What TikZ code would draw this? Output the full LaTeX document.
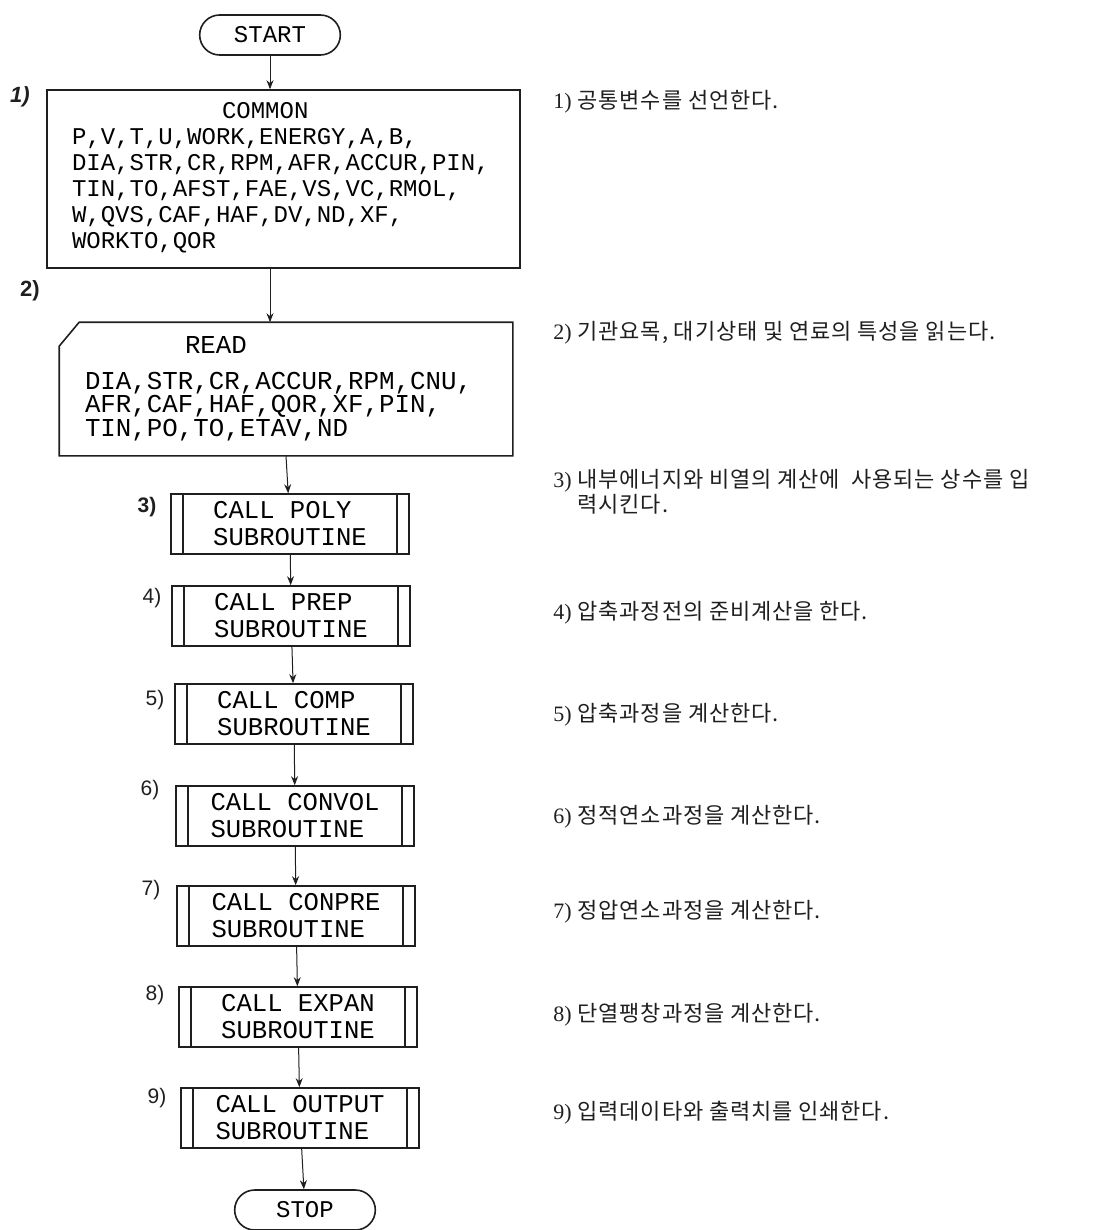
\documentclass[tikz,border=0pt]{standalone}
\usepackage{fontspec}
\setmainfont{Liberation Serif}
\setsansfont{Liberation Sans}
\setmonofont{Liberation Mono}
\newfontfamily\cjk[LetterSpace=4]{Noto Sans CJK KR}
\usepackage{tikz}
\usetikzlibrary{arrows.meta,shapes.misc}
\usepackage{xcolor}
\definecolor{ink}{HTML}{1F1F1F}
\newcommand{\notenum}[1]{{\rmfamily #1)}\ }
\tikzset{
  >={Stealth[length=4.5pt,width=3.5pt]},
  boxline/.style={draw=ink,line width=0.8pt},
  termbox/.style={rounded rectangle,boxline,minimum width=77pt,minimum height=20pt,
                  font=\ttfamily\fontsize{12}{13}\selectfont},
  listbox/.style={boxline,align=left,inner xsep=12.5pt,
                  font=\ttfamily\fontsize{12}{13}\selectfont},
  subbox/.style={boxline,align=left,minimum width=119pt,minimum height=30pt,
                 font=\ttfamily\fontsize{12.8}{13.5}\selectfont,
                 path picture={\draw[ink,line width=0.8pt]
                   ([xshift=6pt]path picture bounding box.north west) --
                   ([xshift=6pt]path picture bounding box.south west)
                   ([xshift=-6pt]path picture bounding box.north east) --
                   ([xshift=-6pt]path picture bounding box.south east);}},
  steplabel/.style={inner sep=0pt,text=ink,font=\sffamily\fontsize{10.5}{12}\selectfont},
  note/.style={anchor=west,inner sep=0pt,align=left,text=ink,
               font=\cjk\fontsize{11}{11}\selectfont},
  flow/.style={->,draw=ink,line width=0.5pt}
}

\begin{document}
\begin{tikzpicture}[x=0.5pt,y=-0.5pt]
  \useasboundingbox (0,0) rectangle (1097,1230);

  % main column
  \node[termbox] (start) at (270,35) {START};
  \node[listbox,text width=211.5pt,minimum height=89pt] (common) at (283.5,179)
    {\hspace*{75pt}COMMON\\
     P,V,T,U,WORK,ENERGY,A,B,\\
     DIA,STR,CR,RPM,AFR,ACCUR,PIN,\\
     TIN,TO,AFST,FAE,VS,VC,RMOL,\\
     W,QVS,CAF,HAF,DV,ND,XF,\\
     WORKTO,QOR\rule[-4pt]{0pt}{4pt}};
  \node[listbox,draw=none,font=\ttfamily\fontsize{12.9}{11.75}\selectfont,
        text width=201pt,minimum height=66pt] (read) at (286,389)
    {\hspace*{50pt}READ\\[6pt]
     DIA,STR,CR,ACCUR,RPM,CNU,\\
     AFR,CAF,HAF,QOR,XF,PIN,\\
     TIN,PO,TO,ETAV,ND};
  \draw[boxline] ([xshift=10pt]read.north west) -- (read.north east)
    -- (read.south east) -- (read.south west) -- ([yshift=-12pt]read.north west) -- cycle;

  \node[subbox] (poly)   at (290,524)  {CALL POLY\\SUBROUTINE};
  \node[subbox] (prep)   at (291,616)  {CALL PREP\\SUBROUTINE};
  \node[subbox] (comp)   at (294,714)  {CALL COMP\\SUBROUTINE};
  \node[subbox] (convol) at (295,816)  {CALL CONVOL\\SUBROUTINE};
  \node[subbox] (conpre) at (296,916)  {CALL CONPRE\\SUBROUTINE};
  \node[subbox] (expan)  at (298,1017) {CALL EXPAN\\SUBROUTINE};
  \node[subbox] (output) at (300,1118) {CALL OUTPUT\\SUBROUTINE};
  \node[termbox] (stop) at (305,1210) {STOP};

  % step numbers
  \node[steplabel,font=\sffamily\bfseries\itshape\fontsize{11}{12}\selectfont] (l1) at (20,97) {1)};
  \node[steplabel,font=\sffamily\bfseries\fontsize{11}{12}\selectfont] (l2) at (30,291) {2)};
  \node[steplabel,font=\sffamily\bfseries\fontsize{10.5}{12}\selectfont] (l3) at (147,507) {3)};
  \node[steplabel] (l4) at (152,598) {4)};
  \node[steplabel] (l5) at (155,700) {5)};
  \node[steplabel] (l6) at (150,790) {6)};
  \node[steplabel] (l7) at (151,890) {7)};
  \node[steplabel] (l8) at (155,995) {8)};
  \node[steplabel] (l9) at (157,1098) {9)};

  % connectors
  \draw[flow] (start.south) -- (start.south |- common.north);
  \draw[flow] (common.south -| start.south) -- (start.south |- read.north);
  \draw[flow] (read.south) -- (poly);
  \draw[flow] (poly) -- (prep);
  \draw[flow] (prep) -- (comp);
  \draw[flow] (comp) -- (convol);
  \draw[flow] (convol) -- (conpre);
  \draw[flow] (conpre) -- (expan);
  \draw[flow] (expan) -- (output);
  \draw[flow] (output) -- (stop);

  % explanations
  \node[note] (n1) at (553,102) {\notenum{1}공통변수를 선언한다.};
  \node[note] (n2) at (553,333) {\notenum{2}기관요목, 대기상태 및 연료의 특성을 읽는다.};
  \node[note] (n3) at (553,492) {\notenum{3}내부에너지와 비열의 계산에\ \ 사용되는 상수를 입\\
                                 \hphantom{\notenum{3}}력시킨다.};
  \node[note] (n4) at (553,613) {\notenum{4}압축과정전의 준비계산을 한다.};
  \node[note] (n5) at (553,715) {\notenum{5}압축과정을 계산한다.};
  \node[note] (n6) at (553,817) {\notenum{6}정적연소과정을 계산한다.};
  \node[note] (n7) at (553,912) {\notenum{7}정압연소과정을 계산한다.};
  \node[note] (n8) at (553,1015) {\notenum{8}단열팽창과정을 계산한다.};
  \node[note] (n9) at (553,1113) {\notenum{9}입력데이타와 출력치를 인쇄한다.};
\end{tikzpicture}
\end{document}
